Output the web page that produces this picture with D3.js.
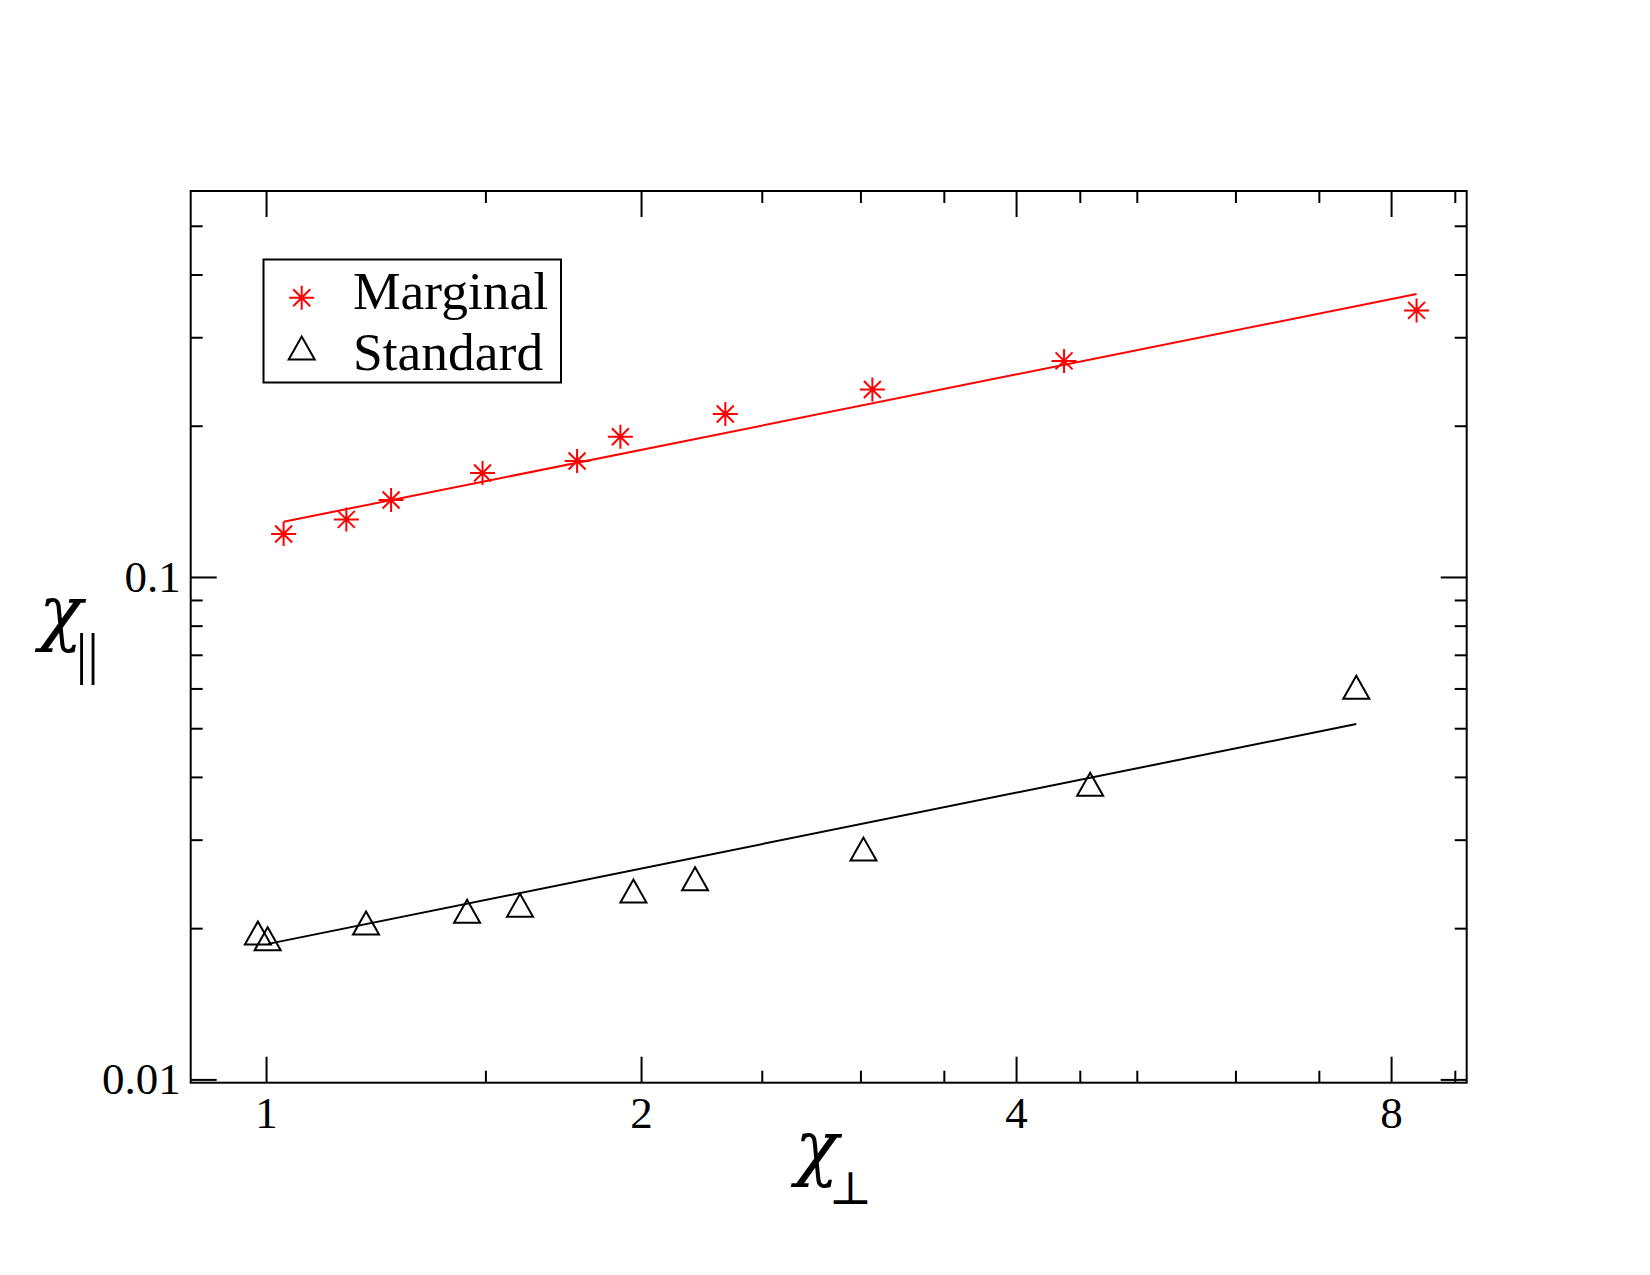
<!DOCTYPE html>
<html>
<head>
<meta charset="utf-8">
<script src="https://cdn.jsdelivr.net/npm/d3@7"></script>
<style>
body { margin: 0; background: #fff; }
svg text { font-family: "Liberation Serif", "Times New Roman", serif; fill: #000; }
</style>
</head>
<body>
<svg id="chart" width="1650" height="1275"></svg>
<script>
// values
var marginalX = [1.033, 1.160, 1.260, 1.492, 1.777, 1.925, 2.337, 3.067, 4.371, 8.386];
var marginalY = [0.1218, 0.1302, 0.1423, 0.1610, 0.1701, 0.1902, 0.2110, 0.2362, 0.2692, 0.3393];
var marginalFitX = [1.033, 8.386];
var marginalFitY = [0.1288, 0.3658];

var standardX = [0.985, 1.003, 1.203, 1.450, 1.599, 1.972, 2.210, 3.017, 4.587, 7.502];
var standardY = [0.01956, 0.01906, 0.02048, 0.02160, 0.02221, 0.02372, 0.02509, 0.02873, 0.03868, 0.06035];
var standardFitX = [1.004, 7.502];
var standardFitY = [0.01861, 0.05098];

var seriesNames = ['Marginal', 'Standard'];
var xMajorTicks = [1, 2, 4, 8];
var xMinorTicks = [1.5, 2.5, 3, 3.5, 4.5, 5, 6, 7, 9];
var yMajorTicks = [0.01, 0.1];
var yMinorTicks = [0.02, 0.03, 0.04, 0.05, 0.06, 0.07, 0.08, 0.09, 0.2, 0.3, 0.4, 0.5];

var chart = {
    left: 190.7,
    top: 191,
    width: 1276,
    height: 891.7,
    major: 26,
    minor: 12,
    red: '#ff0000'
};

var svg = d3.select('#chart');
var g = svg.append('g').attr('transform', 'translate(' + chart.left + ',' + chart.top + ')');

var x = d3.scaleLog().base(2).domain([0.87, 9.2]).range([0, chart.width]);
var y = d3.scaleLog().domain([0.00985, 0.5864]).range([chart.height, 0]);

function zip(xs, ys) {
    return xs.map(function(v, i) { return {x: v, y: ys[i]}; });
}

function asterisk(cx, cy) {
    var h = 12.5, v = 12, d = 8.5;
    return 'M' + (cx - h) + ',' + cy + 'H' + (cx + h) +
        'M' + cx + ',' + (cy - v) + 'V' + (cy + v) +
        'M' + (cx - d) + ',' + (cy - d) + 'L' + (cx + d) + ',' + (cy + d) +
        'M' + (cx - d) + ',' + (cy + d) + 'L' + (cx + d) + ',' + (cy - d);
}

function triangle(cx, cy) {
    var w = 13, h = 11.5;
    return 'M' + cx + ',' + (cy - h) + 'L' + (cx + w) + ',' + (cy + h) + 'L' + (cx - w) + ',' + (cy + h) + 'Z';
}

// axes: ticks point inward on all four sides
var fmt = function(d) { return d3.format('')(d); };
function styleAxis(sel) {
    sel.select('.domain').remove();
    sel.selectAll('line').attr('stroke', '#000').attr('stroke-width', 2);
    sel.selectAll('text').attr('font-size', 45).attr('fill', '#000')
        .style('font-family', '"Liberation Serif", serif');
}

g.append('g').attr('transform', 'translate(0,' + chart.height + ')')
    .call(d3.axisBottom(x).tickValues(xMajorTicks).tickFormat(fmt).tickSizeInner(-chart.major).tickSizeOuter(0).tickPadding(13))
    .call(styleAxis);
g.append('g').attr('transform', 'translate(0,' + chart.height + ')')
    .call(d3.axisBottom(x).tickValues(xMinorTicks).tickFormat('').tickSizeInner(-chart.minor).tickSizeOuter(0))
    .call(styleAxis);
g.append('g')
    .call(d3.axisTop(x).tickValues(xMajorTicks).tickFormat('').tickSizeInner(-chart.major).tickSizeOuter(0))
    .call(styleAxis);
g.append('g')
    .call(d3.axisTop(x).tickValues(xMinorTicks).tickFormat('').tickSizeInner(-chart.minor).tickSizeOuter(0))
    .call(styleAxis);

g.append('g')
    .call(d3.axisLeft(y).tickValues(yMajorTicks).tickFormat(fmt).tickSizeInner(-chart.major).tickSizeOuter(0).tickPadding(10))
    .call(styleAxis);
g.append('g')
    .call(d3.axisLeft(y).tickValues(yMinorTicks).tickFormat('').tickSizeInner(-chart.minor).tickSizeOuter(0))
    .call(styleAxis);
g.append('g').attr('transform', 'translate(' + chart.width + ',0)')
    .call(d3.axisRight(y).tickValues(yMajorTicks).tickFormat('').tickSizeInner(-chart.major).tickSizeOuter(0))
    .call(styleAxis);
g.append('g').attr('transform', 'translate(' + chart.width + ',0)')
    .call(d3.axisRight(y).tickValues(yMinorTicks).tickFormat('').tickSizeInner(-chart.minor).tickSizeOuter(0))
    .call(styleAxis);

g.append('rect')
    .attr('width', chart.width).attr('height', chart.height)
    .attr('fill', 'none').attr('stroke', '#000').attr('stroke-width', 2);

// fit lines
var line = d3.line().x(function(d) { return x(d.x); }).y(function(d) { return y(d.y); });
g.append('path').attr('d', line(zip(marginalFitX, marginalFitY)))
    .attr('fill', 'none').attr('stroke', chart.red).attr('stroke-width', 2);
g.append('path').attr('d', line(zip(standardFitX, standardFitY)))
    .attr('fill', 'none').attr('stroke', '#000').attr('stroke-width', 2);

// points
g.selectAll('.marginal').data(zip(marginalX, marginalY)).enter().append('path')
    .attr('class', 'marginal')
    .attr('d', function(d) { return asterisk(x(d.x), y(d.y)); })
    .attr('fill', 'none').attr('stroke', chart.red).attr('stroke-width', 2);
g.selectAll('.standard').data(zip(standardX, standardY)).enter().append('path')
    .attr('class', 'standard')
    .attr('d', function(d) { return triangle(x(d.x), y(d.y)); })
    .attr('fill', 'none').attr('stroke', '#000').attr('stroke-width', 2);

// legend
var legend = svg.append('g');
legend.append('rect')
    .attr('x', 263.5).attr('y', 259.5).attr('width', 297.5).attr('height', 123)
    .attr('fill', '#fff').attr('stroke', '#000').attr('stroke-width', 2);
legend.append('path').attr('d', asterisk(301.7, 297.7))
    .attr('fill', 'none').attr('stroke', chart.red).attr('stroke-width', 2);
legend.append('path').attr('d', triangle(301.7, 348))
    .attr('fill', 'none').attr('stroke', '#000').attr('stroke-width', 2);
legend.selectAll('.label').data(seriesNames).enter().append('text')
    .attr('x', 353)
    .attr('y', function(d, i) { return 309 + i * 61; })
    .attr('font-size', 53.5)
    .text(function(d) { return d; });

// axis titles
var titleFont = '"DejaVu Serif", serif';
var xt = svg.append('text').attr('x', 795).attr('y', 1172).attr('font-size', 72);
xt.append('tspan').attr('font-style', 'italic').style('font-family', titleFont).text('χ');
xt.append('tspan').attr('font-size', 46).attr('dy', 32).attr('dx', -10)
    .style('font-family', titleFont).text('⊥');

var yt = svg.append('text').attr('x', 39).attr('y', 637).attr('font-size', 72);
yt.append('tspan').attr('font-style', 'italic').style('font-family', titleFont).text('χ');
yt.append('tspan').attr('font-size', 58).attr('dy', 36).attr('dx', -7).text('||');
</script>
</body>
</html>
